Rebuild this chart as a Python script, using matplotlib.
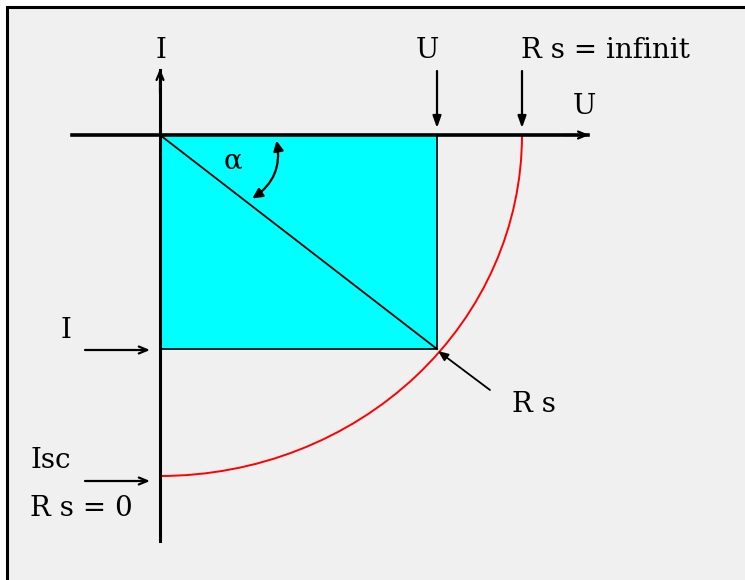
import matplotlib.pyplot as plt
from matplotlib.patches import Rectangle, Arc, FancyArrowPatch

# diagram coordinates (pixel-like units, y grows downward)
origin = (160, 135)
u_op = 437        # operating point voltage
i_op = 349        # operating point current
u_oc = 522        # open circuit (Rs = infinit)
i_sc = 476        # short circuit (Rs = 0)
u_axis_end = 592
i_axis_end = 66
u_axis_start = 72
i_axis_bottom = 541

labels = ["I", "U", "R s = infinit", "U", "I", "Isc", "R s = 0", "R s"]
label_pos = [(161, 51), (427, 51), (521, 51), (584, 106), (66, 330), (30, 460), (30, 508), (512, 405)]
label_ha = ["center", "center", "left", "center", "center", "left", "left", "left"]

fig = plt.figure(figsize=(7.45, 5.8), dpi=100)
fig.set_facecolor('white')
ax = fig.add_axes([0, 0, 1, 1])
ax.set_xlim(0, 745)
ax.set_ylim(580, 0)
ax.axis('off')

# frame
ax.add_patch(Rectangle((7, 7), 760, 600, facecolor='#f0f0f0', edgecolor='black', lw=2.2, zorder=0))

# cyan power rectangle
ax.add_patch(Rectangle(origin, u_op - origin[0], i_op - origin[1],
                       facecolor='#00ffff', edgecolor='black', lw=1.2, zorder=1))

# diagonal (load line)
ax.plot([origin[0], u_op], [origin[1], i_op], color='black', lw=1.3, zorder=2)

# red I-U curve
ax.add_patch(Arc(origin, 2 * (u_oc - origin[0]), 2 * (i_sc - origin[1]),
                 theta1=0, theta2=90, color='red', lw=1.4, zorder=2))

# axes
ax.plot([origin[0], origin[0]], [i_axis_bottom, i_axis_end + 4], color='black', lw=2.2, zorder=3)
ax.plot([u_axis_start, u_axis_end - 4], [origin[1], origin[1]], color='black', lw=2.6, zorder=3)
ax.annotate('', xy=(origin[0], i_axis_end), xytext=(origin[0], i_axis_end + 30),
            arrowprops=dict(arrowstyle='->,head_length=0.6,head_width=0.25', color='black', lw=1.6))
ax.annotate('', xy=(u_axis_end, origin[1]), xytext=(u_axis_end - 30, origin[1]),
            arrowprops=dict(arrowstyle='->,head_length=0.6,head_width=0.25', color='black', lw=1.6))

arrow_kw = dict(arrowstyle='-|>,head_length=0.7,head_width=0.25', color='black', lw=1.6,
                shrinkA=0, shrinkB=0)

# pointer arrows
ax.annotate('', xy=(u_op, 128), xytext=(u_op, 71), arrowprops=arrow_kw)
ax.annotate('', xy=(u_oc, 128), xytext=(u_oc, 71), arrowprops=arrow_kw)
ax.annotate('', xy=(150, i_op + 1), xytext=(85, i_op + 1),
            arrowprops=dict(arrowstyle='->,head_length=0.6,head_width=0.25', color='black', lw=1.6,
                            shrinkA=0, shrinkB=0))
ax.annotate('', xy=(150, i_sc + 5), xytext=(85, i_sc + 5),
            arrowprops=dict(arrowstyle='->,head_length=0.6,head_width=0.25', color='black', lw=1.6,
                            shrinkA=0, shrinkB=0))
ax.annotate('', xy=(u_op + 1, i_op + 2), xytext=(490, 390),
            arrowprops=dict(arrowstyle='-|>,head_length=0.6,head_width=0.25', color='black', lw=1.3,
                            shrinkA=0, shrinkB=0))

# angle alpha
ax.add_patch(FancyArrowPatch((250, 200), (276, 138), arrowstyle='<|-|>,head_length=6,head_width=3',
                             connectionstyle='arc3,rad=0.35', color='black', lw=1.6, zorder=4))
ax.text(233, 161, '\u03b1', fontsize=20, family='DejaVu Serif', ha='center', va='center')

for t, p, h in zip(labels, label_pos, label_ha):
    ax.text(p[0], p[1], t, fontsize=20, family='DejaVu Serif', ha=h, va='center')

plt.savefig('out.png', dpi=100)
